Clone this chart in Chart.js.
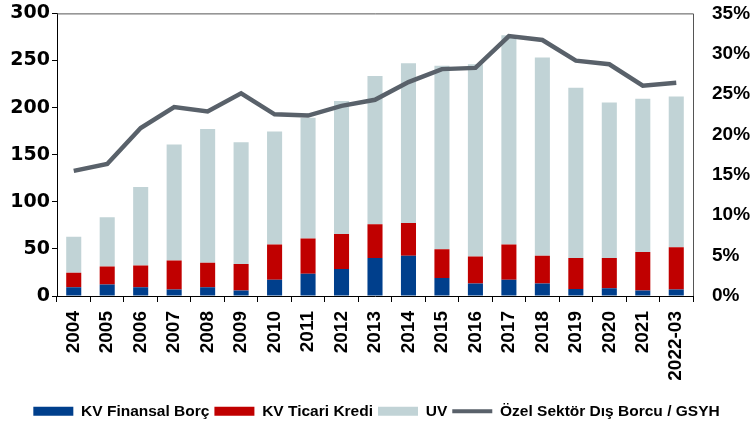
<!DOCTYPE html>
<html><head><meta charset="utf-8">
<script src="https://cdn.jsdelivr.net/npm/chart.js@4"></script>
<style>html,body{margin:0;padding:0;background:#fff}#wrap{width:753px;height:426px}</style>
</head><body><div id="wrap"><canvas id="c" width="753" height="426"></canvas></div>
<script>
const categories = ["2004","2005","2006","2007","2008","2009","2010","2011","2012","2013","2014","2015","2016","2017","2018","2019","2020","2021","2022-03"];
const kvFinansalBorc = [9.4,12.3,9.4,6.9,9.4,5.9,17.3,23.7,28.6,40.3,42.8,19.0,13.3,17.3,13.3,7.3,8.3,5.9,6.9];
const kvTicariKredi = [15.3,19.1,23.1,30.9,26.0,28.0,37.3,37.3,37.3,35.9,34.8,30.6,28.5,37.3,29.5,33.0,32.0,40.8,44.8];
const uv = [38.3,52.3,83.1,122.9,142.0,129.4,120.0,128.2,141.1,157.4,169.4,194.7,204.2,222.3,210.3,180.8,165.2,162.7,160.2];
const ozelSektorGsyh = [15.5,16.35,20.8,23.4,22.85,25.1,22.5,22.35,23.55,24.3,26.5,28.1,28.25,32.2,31.7,29.15,28.7,26.05,26.4];
const leftTicks = [0,50,100,150,200,250,300];
const rightTicks = [0,5,10,15,20,25,30,35];
const seriesNames = ["KV Finansal Borç","KV Ticari Kredi","UV","Özel Sektör Dış Borcu / GSYH"];

const C_BLUE = '#003f8c', C_RED = '#c00000', C_LIGHT = '#c1d3d6', C_LINE = '#59616a';

const framePlugin = {
  id: 'frame',
  afterDraw(chart) {
    const a = chart.chartArea, ctx = chart.ctx;
    ctx.save();
    ctx.strokeStyle = '#555555';
    ctx.lineWidth = 1;
    ctx.beginPath();
    ctx.moveTo(a.left, a.top + 0.5);
    ctx.lineTo(Math.round(a.right) + 0.5, a.top + 0.5);
    ctx.lineTo(Math.round(a.right) + 0.5, a.bottom);
    ctx.stroke();
    ctx.restore();
  }
};

new Chart(document.getElementById('c'), {
  type: 'bar',
  data: {
    labels: categories,
    datasets: [
      { label: seriesNames[0], data: kvFinansalBorc, backgroundColor: C_BLUE, stack: 's', yAxisID: 'y', order: 1 },
      { label: seriesNames[1], data: kvTicariKredi, backgroundColor: C_RED, stack: 's', yAxisID: 'y', order: 1 },
      { label: seriesNames[2], data: uv, backgroundColor: C_LIGHT, stack: 's', yAxisID: 'y', order: 1 },
      { type: 'line', label: seriesNames[3], data: ozelSektorGsyh, borderColor: C_LINE, backgroundColor: C_LINE,
        borderWidth: 4.5, pointRadius: 0, tension: 0, yAxisID: 'y1', order: 0 }
    ]
  },
  options: {
    responsive: false,
    animation: false,
    devicePixelRatio: 1,
    layout: { padding: { left: 0, right: 0, top: 0, bottom: -3 } },
    datasets: { bar: { barPercentage: 0.9, categoryPercentage: 0.5 } },
    scales: {
      x: {
        stacked: true,
        grid: { display: true, offset: true, drawOnChartArea: false, drawTicks: true, tickLength: 6, color: '#000' },
        border: { display: true, color: '#000', width: 1 },
        ticks: { autoSkip: false, minRotation: 90, maxRotation: 90, padding: 9, color: '#000',
                 font: { family: 'Liberation Sans', weight: 'bold', size: 19 } },
        afterFit(s) { s.height = 102.5; }
      },
      y: {
        stacked: true, position: 'left', min: 0, max: 300,
        afterBuildTicks(s) { s.ticks = leftTicks.map(v => ({ value: v })); },
        grid: { display: true, drawOnChartArea: false, drawTicks: true, tickLength: 5, color: '#000' },
        border: { display: true, color: '#000', width: 1 },
        ticks: { padding: 2, color: '#000', font: { family: 'DejaVu Sans', weight: 'bold', size: 19 } },
        afterFit(s) { s.width = 57; }
      },
      y1: {
        position: 'right', min: 0, max: 35,
        afterBuildTicks(s) { s.ticks = rightTicks.map(v => ({ value: v })); },
        grid: { display: true, drawOnChartArea: false, drawTicks: true, tickLength: 17, color: 'rgba(0,0,0,0)' },
        border: { display: false },
        ticks: { padding: 2, color: '#000', callback: v => v + '%',
                 font: { family: 'Liberation Sans', weight: 'bold', size: 19 } },
        afterFit(s) { s.width = 60; }
      }
    },
    plugins: {
      tooltip: { enabled: false },
      legend: {
        position: 'bottom',
        labels: {
          usePointStyle: true, pointStyleWidth: 40, boxHeight: 9, padding: 5, color: '#000',
          font: { family: 'Liberation Sans', weight: 'bold', size: 15.5 },
          sort: (a, b) => a.datasetIndex - b.datasetIndex,
          generateLabels(chart) {
            const items = Chart.defaults.plugins.legend.labels.generateLabels(chart);
            items.forEach(it => {
              const ds = chart.data.datasets[it.datasetIndex];
              if (ds.type === 'line') { it.pointStyle = 'line'; it.lineWidth = 4; it.strokeStyle = ds.borderColor; }
              else { it.pointStyle = 'rect'; it.lineWidth = 0; it.fillStyle = ds.backgroundColor; }
            });
            return items;
          }
        }
      }
    }
  },
  plugins: [framePlugin]
});
</script></body></html>
